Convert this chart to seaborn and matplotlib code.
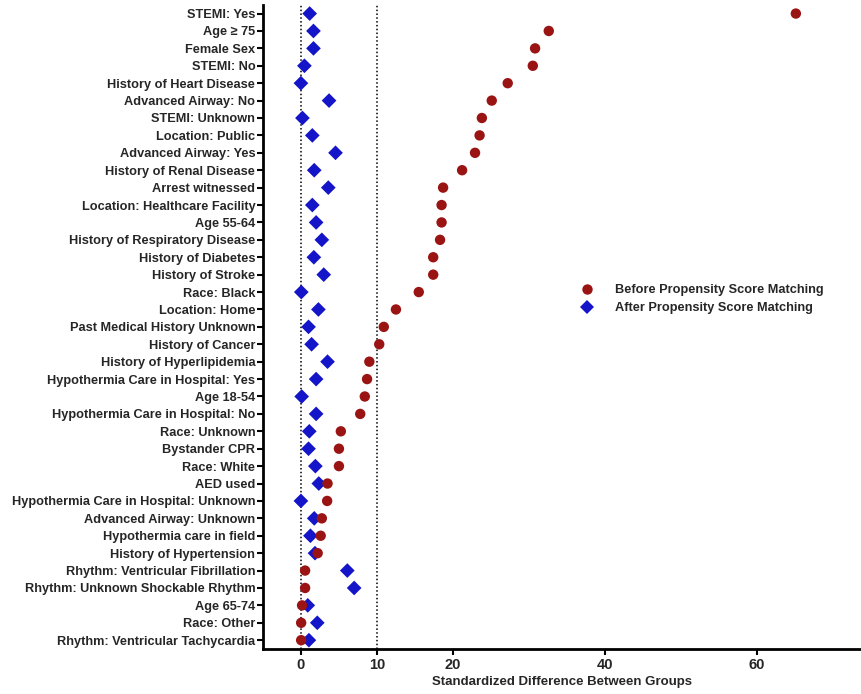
import matplotlib
matplotlib.use("Agg")
import matplotlib.pyplot as plt
import pandas as pd
import seaborn as sns

covariates = [
    "STEMI: Yes", "Age \u2265 75", "Female Sex", "STEMI: No",
    "History of Heart Disease", "Advanced Airway: No", "STEMI: Unknown",
    "Location: Public", "Advanced Airway: Yes", "History of Renal Disease",
    "Arrest witnessed", "Location: Healthcare Facility", "Age 55-64",
    "History of Respiratory Disease", "History of Diabetes", "History of Stroke",
    "Race: Black", "Location: Home", "Past Medical History Unknown",
    "History of Cancer", "History of Hyperlipidemia",
    "Hypothermia Care in Hospital: Yes", "Age 18-54",
    "Hypothermia Care in Hospital: No", "Race: Unknown", "Bystander CPR",
    "Race: White", "AED used", "Hypothermia Care in Hospital: Unknown",
    "Advanced Airway: Unknown", "Hypothermia care in field",
    "History of Hypertension", "Rhythm: Ventricular Fibrillation",
    "Rhythm: Unknown Shockable Rhythm", "Age 65-74", "Race: Other",
    "Rhythm: Ventricular Tachycardia",
]

before_psm = [
    65.1, 32.6, 30.8, 30.5, 27.2, 25.1, 23.8, 23.5, 22.9, 21.2,
    18.7, 18.5, 18.5, 18.3, 17.4, 17.4, 15.5, 12.5, 10.9, 10.3,
    9.0, 8.7, 8.4, 7.8, 5.25, 5.0, 5.0, 3.5, 3.45, 2.75,
    2.6, 2.2, 0.55, 0.55, 0.15, 0.03, 0.03,
]

after_psm = [
    1.15, 1.65, 1.65, 0.46, 0.0, 3.7, 0.2, 1.5, 4.55, 1.75,
    3.6, 1.5, 2.0, 2.75, 1.7, 3.0, 0.05, 2.3, 1.0, 1.4,
    3.5, 2.0, 0.1, 2.0, 1.1, 1.0, 1.9, 2.35, 0.0, 1.75,
    1.25, 1.85, 6.1, 7.0, 0.9, 2.15, 1.05,
]

x_ticks = [0, 10, 20, 40, 60]
ref_lines = [0, 10]

BEFORE = "Before Propensity Score Matching"
AFTER = "After Propensity Score Matching"

sns.set_style("ticks")
plt.rcParams["font.family"] = ["Liberation Sans", "DejaVu Sans"]
plt.rcParams["font.weight"] = "bold"

# after first so the red circles sit on top of the diamonds
df = pd.concat([
    pd.DataFrame({"Covariate": covariates, "Diff": after_psm, "Group": AFTER}),
    pd.DataFrame({"Covariate": covariates, "Diff": before_psm, "Group": BEFORE}),
], ignore_index=True)
df["Pos"] = df["Covariate"].map({c: i for i, c in enumerate(covariates)})

fig = plt.figure(figsize=(8.62, 6.94), dpi=100)
ax = fig.add_axes([0.305, 0.065, 0.695, 0.928])

for xv in ref_lines:
    ax.axvline(xv, color="black", linestyle=(0, (1, 1.5)), linewidth=1.1, zorder=1)

sns.scatterplot(
    data=df, x="Diff", y="Pos", hue="Group", style="Group",
    hue_order=[BEFORE, AFTER], style_order=[BEFORE, AFTER],
    palette={BEFORE: "#9a1414", AFTER: "#1414c8"},
    markers={BEFORE: "o", AFTER: "D"},
    s=56, linewidth=0, ax=ax, zorder=3,
)

ax.set_yticks(range(len(covariates)))
ax.set_yticklabels(covariates)
ax.set_ylim(len(covariates) - 0.5, -0.5)
ax.set_xlim(-5, 73.8)
ax.set_xticks(x_ticks)
ax.set_xlabel("Standardized Difference Between Groups", fontsize=9.5,
              fontweight="bold", labelpad=3)
ax.set_ylabel("")

ax.tick_params(axis="y", labelsize=9.2, width=1.5, length=4, color="black", pad=1.5)
ax.tick_params(axis="x", labelsize=10.5, width=1.5, length=4, color="black", pad=2.5)
for lbl in ax.get_xticklabels() + ax.get_yticklabels():
    lbl.set_fontweight("bold")

sns.despine(ax=ax)
for side in ("left", "bottom"):
    ax.spines[side].set_linewidth(2)
    ax.spines[side].set_color("black")

leg = ax.legend(loc="center left", bbox_to_anchor=(0.5, 0.543), frameon=False,
                fontsize=9.2, handletextpad=1.2, labelspacing=0.5, markerscale=1.0)
for txt in leg.get_texts():
    txt.set_fontweight("bold")

fig.savefig("out.png", dpi=100)
